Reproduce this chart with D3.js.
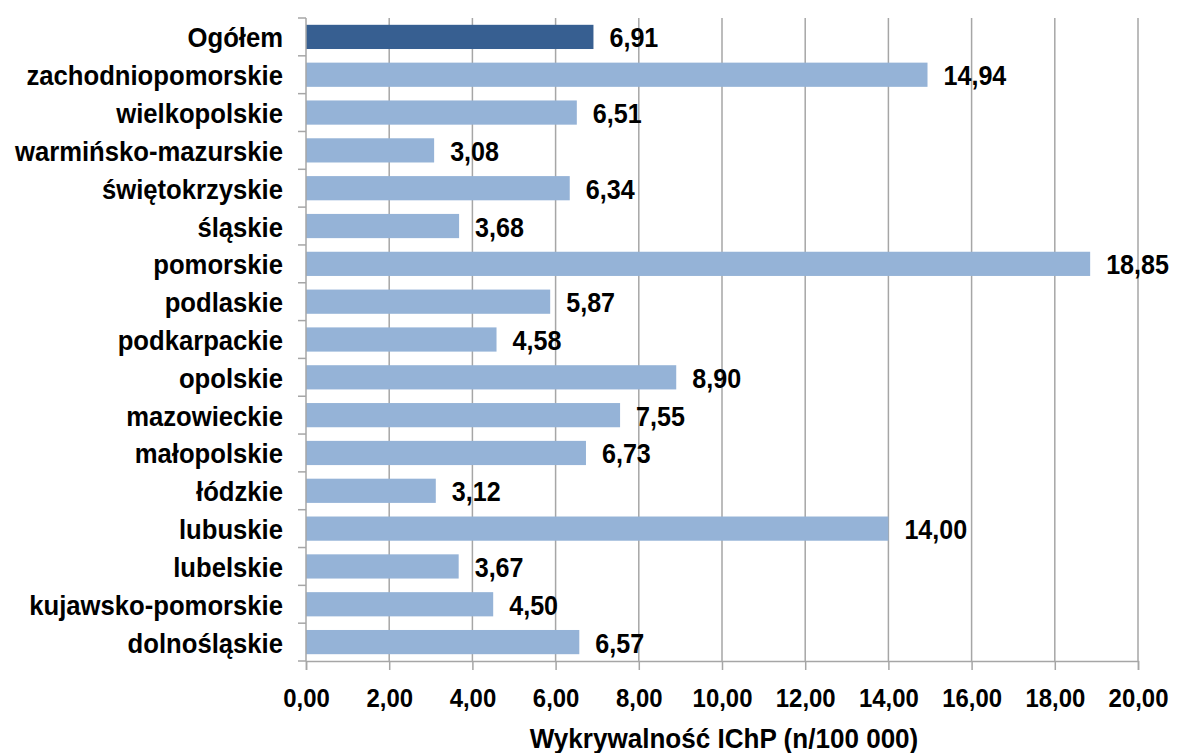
<!DOCTYPE html>
<html>
<head>
<meta charset="utf-8">
<script src="https://cdn.jsdelivr.net/npm/d3@7"></script>
<style>
  html, body { margin: 0; padding: 0; background: #fff; }
  svg { display: block; font-family: "Liberation Sans", Arial, sans-serif; font-weight: bold; }
</style>
</head>
<body>
<svg id="chart" width="1177" height="753"></svg>
<script>
// Voivodeships, top to bottom, with the national total first
const categories = [
  "Ogółem", "zachodniopomorskie", "wielkopolskie", "warmińsko-mazurskie",
  "świętokrzyskie", "śląskie", "pomorskie", "podlaskie", "podkarpackie",
  "opolskie", "mazowieckie", "małopolskie", "łódzkie", "lubuskie",
  "lubelskie", "kujawsko-pomorskie", "dolnośląskie"
];
const values = [
  6.91, 14.94, 6.51, 3.08, 6.34, 3.68, 18.85, 5.87, 4.58,
  8.90, 7.55, 6.73, 3.12, 14.00, 3.67, 4.50, 6.57
];
const xTicks = [0, 2, 4, 6, 8, 10, 12, 14, 16, 18, 20];
const axisTitle = "Wykrywalność IChP (n/100 000)";

const fmt = v => v.toFixed(2).replace(".", ",");

const svg = d3.select("#chart");
const margin = { left: 306, right: 39, top: 18, bottom: 92 };
const W = 1177, H = 753;
const innerW = W - margin.left - margin.right;
const innerH = H - margin.top - margin.bottom;

const x = d3.scaleLinear().domain([0, 20]).range([0, innerW]);
const y = d3.scaleBand().domain(categories).range([0, innerH])
  .paddingInner(0.36).paddingOuter(0.18);

const g = svg.append("g").attr("transform", `translate(${margin.left},${margin.top})`);
const gridColor = "#a6a6a6";
const FS = 27;

// vertical gridlines
g.selectAll("line.grid").data(xTicks.slice(1)).join("line")
  .attr("class", "grid")
  .attr("x1", d => x(d)).attr("x2", d => x(d))
  .attr("y1", 0).attr("y2", innerH)
  .attr("stroke", gridColor).attr("stroke-width", 1.5);

// bars
g.selectAll("rect.bar").data(categories).join("rect")
  .attr("class", "bar")
  .attr("x", 0)
  .attr("y", d => y(d))
  .attr("width", (d, i) => x(values[i]))
  .attr("height", y.bandwidth())
  .attr("fill", (d, i) => i === 0 ? "#375f91" : "#95b3d7");

// bottom axis
const xAxis = d3.axisBottom(x).tickValues(xTicks).tickSize(9).tickPadding(19).tickFormat(fmt);
const gx = g.append("g").attr("transform", `translate(0,${innerH})`).call(xAxis);
gx.select(".domain").attr("stroke", gridColor).attr("stroke-width", 1.5);
gx.selectAll(".tick line").attr("stroke", gridColor).attr("stroke-width", 1.5);
gx.selectAll(".tick text")
  .attr("class", "lbl")
  .attr("data-squeeze", 0.92)
  .attr("fill", "#000").attr("font-size", 26).attr("font-weight", "bold")
  .attr("font-family", "'Liberation Sans', Arial, sans-serif");

// left axis line with ticks between categories
const boundaries = d3.range(categories.length + 1).map(i => i * (innerH / categories.length));
g.append("line")
  .attr("x1", 0).attr("x2", 0).attr("y1", 0).attr("y2", innerH)
  .attr("stroke", gridColor).attr("stroke-width", 1.5);
g.selectAll("line.ytick").data(boundaries).join("line")
  .attr("class", "ytick")
  .attr("x1", -8).attr("x2", 0)
  .attr("y1", d => d).attr("y2", d => d)
  .attr("stroke", gridColor).attr("stroke-width", 1.5);

// category labels
g.selectAll("text.cat").data(categories).join("text")
  .attr("class", "cat lbl")
  .attr("data-squeeze", 0.95)
  .attr("x", -23)
  .attr("y", d => y(d) + y.bandwidth() / 2 + 10.5)
  .attr("text-anchor", "end")
  .attr("font-size", FS)
  .attr("fill", "#000")
  .text(d => d);

// value labels
g.selectAll("text.val").data(categories).join("text")
  .attr("class", "val lbl")
  .attr("data-squeeze", 0.93)
  .attr("x", (d, i) => x(values[i]) + 16)
  .attr("y", d => y(d) + y.bandwidth() / 2 + 10.5)
  .attr("font-size", FS)
  .attr("fill", "#000")
  .text((d, i) => fmt(values[i]));

// axis title
svg.append("text")
  .attr("class", "lbl")
  .attr("data-squeeze", 0.965)
  .attr("x", margin.left + innerW / 2 + 2)
  .attr("y", 748)
  .attr("text-anchor", "middle")
  .attr("font-size", 27)
  .attr("fill", "#000")
  .text(axisTitle);

// slightly condensed lettering
svg.selectAll("text.lbl").each(function () {
  const k = +this.getAttribute("data-squeeze");
  const len = this.getComputedTextLength();
  d3.select(this).attr("textLength", len * k).attr("lengthAdjust", "spacingAndGlyphs");
});
</script>
</body>
</html>
